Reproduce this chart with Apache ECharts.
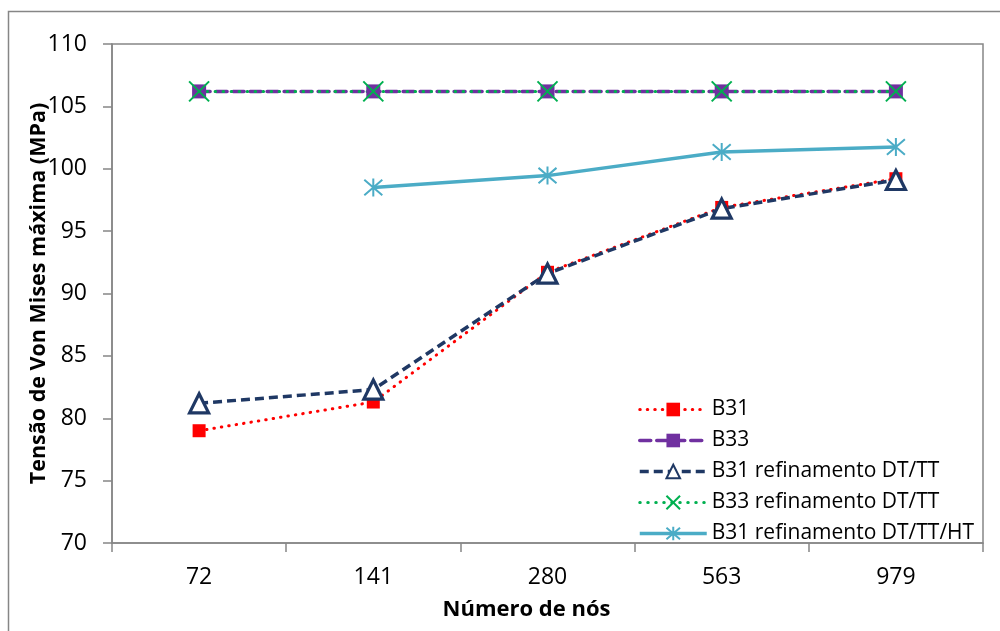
<!DOCTYPE html>
<html>
<head>
<meta charset="utf-8">
<script src="https://cdn.jsdelivr.net/npm/echarts@6/dist/echarts.min.js"></script>
<style>html,body{margin:0;padding:0;background:#fff}#c{width:1000px;height:631px}</style>
</head>
<body>
<div id="c"></div>
<script>
const categories = ['72', '141', '280', '563', '979'];
const b31 = [79.0, 81.3, 91.7, 96.9, 99.2];
const b33 = [106.2, 106.2, 106.2, 106.2, 106.2];
const b31DtTt = [81.2, 82.3, 91.6, 96.8, 99.1];
const b33DtTt = [106.2, 106.2, 106.2, 106.2, 106.2];
const b31DtTtHt = [null, 98.5, 99.45, 101.35, 101.75];
const yTicks = { min: 70, max: 110, interval: 5 };

const FONT = 'Open Sans';
const GRAY = '#868686';
const xPath = 'path://M0,0L10,10M10,0L0,10';
const starPath = 'path://M5,0L5,10M0.7,0.7L9.3,9.3M9.3,0.7L0.7,9.3';

const chart = echarts.init(document.getElementById('c'));
chart.setOption({
  animation: false,
  backgroundColor: '#fff',
  graphic: [{
    type: 'rect', shape: { x: 8.5, y: 11.5, width: 1010, height: 640 },
    style: { fill: 'none', stroke: GRAY, lineWidth: 1.5 }, silent: true
  }],
  grid: { left: 112, right: 17, top: 44, bottom: 88, show: true, borderColor: GRAY, borderWidth: 1.5, backgroundColor: 'transparent' },
  legend: {
    orient: 'vertical', left: 633, top: 394, itemWidth: 67, itemHeight: 17, itemGap: 10,
    lineStyle: { width: 'inherit', type: 'inherit', cap: 'inherit' },
    textStyle: { fontFamily: FONT, fontSize: 21, lineHeight: 20, color: '#000', padding: [0, 0, 0, 0] },
    data: ['B31', 'B33', 'B31 refinamento DT/TT', 'B33 refinamento DT/TT', 'B31 refinamento DT/TT/HT']
  },
  xAxis: {
    type: 'category', data: categories, boundaryGap: true,
    name: 'Número de nós', nameLocation: 'middle', nameGap: 56, nameMoveOverlap: false,
    nameTextStyle: { fontFamily: FONT, fontSize: 22, fontWeight: 'bold', color: '#000', padding: [0, 42, 0, 0] },
    axisLine: { lineStyle: { color: GRAY, width: 1.5 } },
    axisTick: { show: true, length: 9, lineStyle: { color: GRAY, width: 1.5 } },
    axisLabel: { fontFamily: FONT, fontSize: 23, color: '#000', margin: 23 }
  },
  yAxis: {
    type: 'value', min: yTicks.min, max: yTicks.max, interval: yTicks.interval,
    name: 'Tensão de Von Mises máxima (MPa)', nameLocation: 'middle', nameGap: 62, nameMoveOverlap: false,
    nameTextStyle: { fontFamily: FONT, fontSize: 21.5, fontWeight: 'bold', color: '#000' },
    axisLine: { show: true, lineStyle: { color: GRAY, width: 1.5 } },
    axisTick: { show: true, length: 9, lineStyle: { color: GRAY, width: 1.5 } },
    splitLine: { show: false },
    axisLabel: { fontFamily: FONT, fontSize: 23, color: '#000', margin: 25 }
  },
  series: [
    {
      name: 'B31', type: 'line', data: b31, symbol: 'rect', symbolSize: 13,
      itemStyle: { color: '#FF0000' },
      lineStyle: { color: '#FF0000', width: 3, type: [0.5, 7], cap: 'round' }
    },
    {
      name: 'B33', type: 'line', data: b33, symbol: 'rect', symbolSize: 14,
      itemStyle: { color: '#7030A0' },
      lineStyle: { color: '#7030A0', width: 3.5, type: [11, 6], cap: 'round' }
    },
    {
      name: 'B31 refinamento DT/TT', type: 'line', data: b31DtTt, symbol: 'triangle', symbolSize: 19,
      itemStyle: { color: '#fff', borderColor: '#1F3864', borderWidth: 3.2 },
      lineStyle: { color: '#1F3864', width: 3.5, type: [9, 5] }
    },
    {
      name: 'B33 refinamento DT/TT', type: 'line', data: b33DtTt, symbol: xPath, symbolSize: 20,
      itemStyle: { color: '#00B050', borderColor: '#00B050', borderWidth: 2 },
      lineStyle: { color: '#00B050', width: 3, type: [0.5, 7.5], cap: 'round' }
    },
    {
      name: 'B31 refinamento DT/TT/HT', type: 'line', data: b31DtTtHt, symbol: starPath, symbolSize: 18,
      connectNulls: false,
      itemStyle: { color: '#4BACC6', borderColor: '#4BACC6', borderWidth: 2 },
      lineStyle: { color: '#4BACC6', width: 3.5 }
    }
  ]
});
</script>
</body>
</html>
